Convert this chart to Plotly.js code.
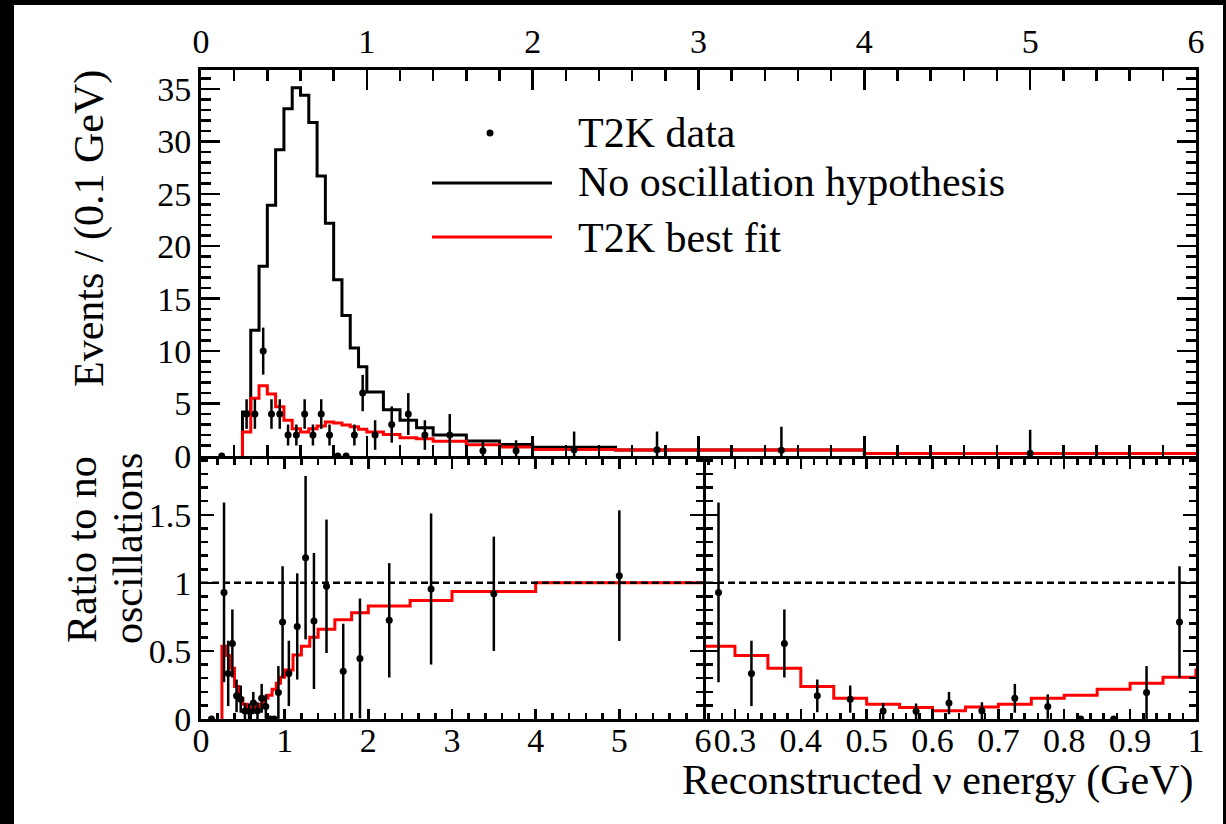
<!DOCTYPE html>
<html><head><meta charset="utf-8">
<script src="https://cdn.plot.ly/plotly-3.0.1.min.js"></script>
<style>
html,body{margin:0;padding:0;background:#000;width:1226px;height:824px;overflow:hidden;}
#plot{position:absolute;left:14px;top:5px;width:1209px;height:819px;background:#fff;}
</style></head><body><div id="plot"></div>
<script>
// ---- data ----
const binEdges = [0.25,0.3,0.35,0.4,0.45,0.5,0.55,0.6,0.65,0.7,0.75,0.8,0.85,0.9,0.95,1.0,1.1,1.2,1.3,1.4,1.6,1.8,2.0,2.5,3.0,4.0,6.0];
const noOscEvents = [4.2,12.0,18.1,23.9,29.2,33.1,35.1,34.4,31.8,26.7,22.2,16.8,13.4,10.3,8.5,6.1,4.4,3.4,2.7,2.0,1.43,1.1,0.83,0.58,0.58,0.25];
const bestFitEvents = [2.3,5.5,6.7,5.9,4.7,3.4,2.6,2.3,2.6,2.85,3.25,3.15,2.95,2.8,2.55,2.3,2.05,1.75,1.65,1.4,1.08,0.85,0.62,0.57,0.57,0.25];
const bestFitRatio = [0.535,0.467,0.372,0.238,0.153,0.109,0.085,0.06,0.088,0.109,0.153,0.175,0.219,0.263,0.307,0.36,0.47,0.535,0.60,0.66,0.73,0.78,0.83,0.87,0.936,1.0];

const dataEnergy = [0.125,0.275,0.325,0.375,0.425,0.475,0.525,0.575,0.625,0.675,0.725,0.775,0.825,0.875,0.925,0.975,1.05,1.15,1.25,1.35,1.5,1.7,1.9,2.25,2.75,3.5,5.0];
const dataEvents = [0,4,4,10,4,4,2,2,4,2,4,2,0,0,2,6,2,3,4,2,2,0.5,0.5,0.6,0.6,0.55,0.26];
const dataEventsErr = [0,1.41,1.41,2.24,1.41,1.41,1,1,1.41,1,1.41,1,0,0,1,1.73,1.41,1.73,2,1.41,2,1,1,1.73,1.73,2.24,2.24];
const dataRatio = [0,0.93,0.335,0.555,0.17,0.146,0.058,0.057,0.117,0.06,0.152,0.091,0,0,0.195,0.712,0.335,0.68,1.185,0.72,0.975,0.35,0.445,0.725,0.955,0.92,1.053];
const dataRatioErr = [0,0.66,0.24,0.25,0.12,0.1,0.06,0.057,0.082,0.063,0.106,0.09,0,0,0.194,0.41,0.24,0.39,0.6,0.5,0.49,0.35,0.44,0.42,0.555,0.42,0.48];

const legendLabels = ['T2K data','No oscillation hypothesis','T2K best fit'];
const xTitle = 'Reconstructed \u03bd energy (GeV)';
const yTitleTop = 'Events / (0.1 GeV)';
const yTitleBottom = ['Ratio to no','oscillations'];

// ---- helpers ----
const stepX = [binEdges[0]].concat(binEdges);
const stepY = v => [0].concat(v, [v[v.length-1]]);

const FONT = 'Liberation Serif, Times New Roman, serif';
const RED = '#ff0000';

function dataTrace(x, y, err, xa, ya){
  return {x:x, y:y, xaxis:xa, yaxis:ya, type:'scatter', mode:'markers',
    marker:{color:'#000', size:7, symbol:'circle'},
    error_y:{type:'data', array:err, visible:true, color:'#000', thickness:2.5, width:0},
    showlegend:false, hoverinfo:'skip'};
}
function histTrace(y, color, xa, ya){
  return {x:stepX, y:y, xaxis:xa, yaxis:ya, type:'scatter', mode:'lines',
    line:{shape:'hv', color:color, width:3}, showlegend:false, hoverinfo:'skip'};
}

const traces = [
  histTrace(stepY(noOscEvents), '#000', 'x', 'y'),
  histTrace(stepY(bestFitEvents), RED, 'x', 'y'),
  dataTrace(dataEnergy, dataEvents, dataEventsErr, 'x', 'y'),
  histTrace(stepY(bestFitRatio), RED, 'x2', 'y2'),
  dataTrace(dataEnergy, dataRatio, dataRatioErr, 'x2', 'y2'),
  histTrace(stepY(bestFitRatio), RED, 'x3', 'y3'),
  dataTrace(dataEnergy, dataRatio, dataRatioErr, 'x3', 'y3')
];

// page geometry (plot area): left 201, right 1196, top 70, bottom 719 (in page px)
const W = 995, H = 649;
const px = p => (p - 201) / W;   // page x -> paper
const py = p => (719 - p) / H;   // page y -> paper
const splitY = py(456), splitY2 = py(459);
const splitX = px(703), splitX2 = px(706);

function axisBase(extra){
  return Object.assign({
    showline:true, linecolor:'#000', linewidth:3, mirror:'ticks',
    ticks:'inside', tickcolor:'#000', tickwidth:2.5,
    showgrid:false, zeroline:false, fixedrange:true,
    tickfont:{family:FONT, size:34, color:'#000'}
  }, extra);
}

const layout = {
  width:1209, height:819,
  margin:{l:187, r:27, t:65, b:105},
  paper_bgcolor:'#fff', plot_bgcolor:'#fff',
  showlegend:false, hovermode:false,
  font:{family:FONT, color:'#000'},
  xaxis: axisBase({domain:[0,1], anchor:'y', side:'top', range:[0,6.0001], tick0:0, dtick:1, ticklen:20,
    minor:{dtick:0.2, tick0:0, ticks:'inside', ticklen:11, tickwidth:2.5, tickcolor:'#000'}}),
  yaxis: axisBase({domain:[splitY,1], anchor:'x', range:[0,36.8], tick0:0, dtick:5, ticklen:19,
    minor:{dtick:1, tick0:0, ticks:'inside', ticklen:10, tickwidth:2.5, tickcolor:'#000'}}),
  xaxis2: axisBase({domain:[0,splitX], anchor:'y2', range:[0,6.0001], tick0:0, dtick:1, ticklen:10, ticklabelstandoff:-11,
    minor:{dtick:0.2, tick0:0, ticks:'inside', ticklen:6, tickwidth:2.5, tickcolor:'#000'}}),
  yaxis2: axisBase({domain:[0,splitY2], anchor:'x2', range:[0,1.91], tick0:0, dtick:0.5, ticklen:13,
    minor:{dtick:0.1, tick0:0, ticks:'inside', ticklen:7, tickwidth:2.5, tickcolor:'#000'}}),
  xaxis3: axisBase({domain:[splitX2,1], anchor:'y3', range:[0.256,1.0001], tick0:0, dtick:0.1, ticklen:10, ticklabelstandoff:-11,
    minor:{dtick:0.02, tick0:0, ticks:'inside', ticklen:6, tickwidth:2.5, tickcolor:'#000'}}),
  yaxis3: axisBase({domain:[0,splitY2], anchor:'x3', range:[0,1.91], tick0:0, dtick:0.5, ticklen:13, showticklabels:false,
    minor:{dtick:0.1, tick0:0, ticks:'inside', ticklen:7, tickwidth:2.5, tickcolor:'#000'}}),
  shapes:[
    {type:'line', xref:'x2 domain', x0:0, x1:1, yref:'y2', y0:1, y1:1, line:{color:'#000', width:2.5, dash:'7px,4px'}},
    {type:'line', xref:'x3 domain', x0:0, x1:1, yref:'y3', y0:1, y1:1, line:{color:'#000', width:2.5, dash:'7px,4px'}},
    {type:'circle', xref:'paper', yref:'paper', xsizemode:'pixel', ysizemode:'pixel',
      xanchor:px(490), yanchor:py(133), x0:-3.5, x1:3.5, y0:-3.5, y1:3.5, fillcolor:'#000', line:{color:'#000', width:0}},
    {type:'line', xref:'paper', yref:'paper', x0:px(432), x1:px(552), y0:py(183), y1:py(183), line:{color:'#000', width:3}},
    {type:'line', xref:'paper', yref:'paper', x0:px(432), x1:px(552), y0:py(237), y1:py(237), line:{color:RED, width:3}}
  ],
  annotations:[
    {text:legendLabels[0], xref:'paper', yref:'paper', x:px(576), y:py(133), xanchor:'left', yanchor:'middle', showarrow:false, font:{family:FONT, size:42, color:'#000'}},
    {text:legendLabels[1], xref:'paper', yref:'paper', x:px(576), y:py(182), xanchor:'left', yanchor:'middle', showarrow:false, font:{family:FONT, size:42, color:'#000'}},
    {text:legendLabels[2], xref:'paper', yref:'paper', x:px(576), y:py(238), xanchor:'left', yanchor:'middle', showarrow:false, font:{family:FONT, size:42, color:'#000'}},
    {text:yTitleTop, xref:'paper', yref:'paper', x:px(89), y:py(229), xanchor:'center', yanchor:'middle', textangle:-90, showarrow:false, font:{family:FONT, size:42, color:'#000'}},
    {text:yTitleBottom[0], xref:'paper', yref:'paper', x:px(82), y:py(550), xanchor:'center', yanchor:'middle', textangle:-90, showarrow:false, font:{family:FONT, size:42, color:'#000'}},
    {text:yTitleBottom[1], xref:'paper', yref:'paper', x:px(128), y:py(549), xanchor:'center', yanchor:'middle', textangle:-90, showarrow:false, font:{family:FONT, size:42, color:'#000'}},
    {text:xTitle, xref:'paper', yref:'paper', x:px(1196), y:py(780), xanchor:'right', yanchor:'middle', showarrow:false, font:{family:FONT, size:42, color:'#000'}}
  ]
};

Plotly.newPlot('plot', traces, layout, {staticPlot:true, displayModeBar:false});
</script></body></html>
